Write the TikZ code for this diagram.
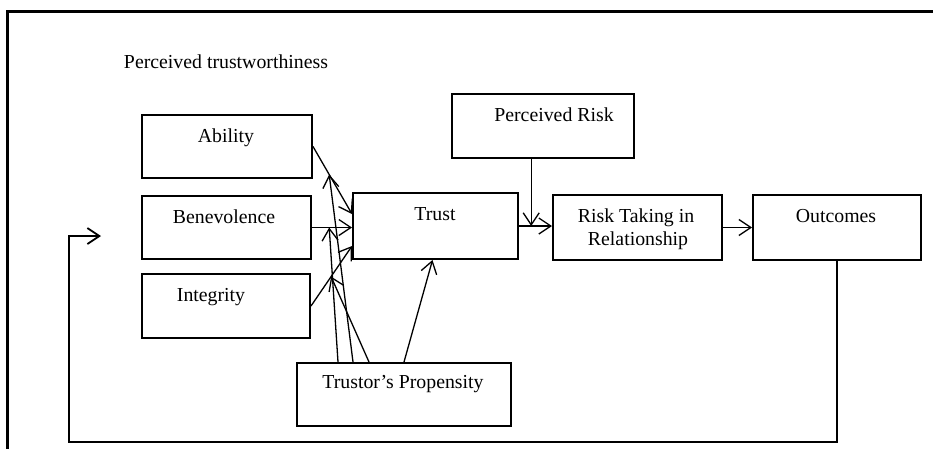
\documentclass[tikz,border=0pt]{standalone}
\usepackage{fontspec}
\setmainfont{Liberation Serif}
\usetikzlibrary{arrows.meta,calc}
\begin{document}
\begin{tikzpicture}[x=1pt,y=-1pt,
 box/.style={draw,line width=2pt,anchor=north west,inner sep=0pt},
 lbl/.style={anchor=base,inner sep=0pt,font=\fontsize{19.8}{23.5}\selectfont},
 arr/.style={line width=1.3pt,-{Straight Barb[length=12pt,width=16pt]}},
 ]
\useasboundingbox (0,0) rectangle (933,448);
\clip (0,0) rectangle (933,448);
% outer frame
\draw[line width=3pt] (7,470) -- (7,11) -- (950,11);
% boxes
\node[box,minimum width=170pt,minimum height=63pt] (abl) at (141,114) {};
\node[box,minimum width=169pt,minimum height=63pt] (ben) at (141,195) {};
\node[box,minimum width=168pt,minimum height=64pt] (int) at (141,273) {};
\node[box,minimum width=165pt,minimum height=66pt] (tru) at (352,192) {};
\node[box,minimum width=182pt,minimum height=64pt] (prk) at (451,93) {};
\node[box,minimum width=169pt,minimum height=65pt] (rtk) at (552,194) {};
\node[box,minimum width=168pt,minimum height=65pt] (out) at (752,194) {};
\node[box,minimum width=214pt,minimum height=63pt] (pro) at (296,362) {};
% labels
\node[lbl] (tpt) at (226,68) {Perceived trustworthiness};
\node[lbl] (tabl) at (226,142) {Ability};
\node[lbl] (tben) at (224,223) {Benevolence};
\node[lbl] (tint) at (211,301) {Integrity};
\node[lbl] (ttru) at (435,220) {Trust};
\node[lbl] (tprk) at (554,121) {Perceived Risk};
\node[lbl] (trtk1) at (636,222) {Risk Taking in};
\node[lbl] (trtk2) at (638,245) {Relationship};
\node[lbl] (tout) at (836,222) {Outcomes};
\node[lbl] (tpro) at (403,388) {Trustor’s Propensity};
% main arrows
\draw[arr] (abl.east) -- coordinate[pos=0.415] (mA) ([yshift=12pt]tru.west);
\draw[arr] (ben.east) -- coordinate[pos=0.43] (mB) (ben.east -| tru.west);
\draw[arr] (int.east) -- coordinate[pos=0.49] (mI) ([yshift=-20pt]tru.west);
\draw[arr] (tru.east) -- coordinate[pos=0.37] (mR) (tru.east -| rtk.west);
\draw[arr] (prk.south -| mR) -- (mR);
\draw[arr] (rtk.east) -- (rtk.east -| out.west);
% propensity arrows
\draw[arr] ([xshift=-66pt]pro.north) -- (mB);
\draw[arr] ([xshift=-51pt]pro.north) -- (mA);
\draw[arr] ([xshift=-35pt]pro.north) -- (mI);
\draw[arr] (pro.north) -- ([xshift=-3pt]tru.south);
% feedback loop
\coordinate (fb) at (69,442);
\coordinate (fbend) at (101,236);
\draw[arr,line width=1.8pt] (out.south) |- (fb) |- (fbend);
\end{tikzpicture}
\end{document}
